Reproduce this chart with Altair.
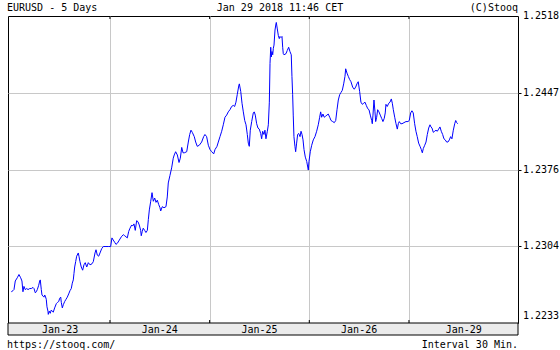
import altair as alt
import pandas as pd

# time in trading days since Jan-23 00:00 (30-min bars), EURUSD price
days = [
    0.010, 0.027, 0.037, 0.050, 0.070, 0.087, 0.104, 0.117, 0.127, 0.137,
    0.150, 0.165, 0.178, 0.195, 0.211, 0.228, 0.238, 0.251, 0.261, 0.271,
    0.285, 0.295, 0.301, 0.311, 0.318, 0.328, 0.338, 0.345, 0.351, 0.361,
    0.368, 0.378, 0.381, 0.391, 0.401, 0.411, 0.421, 0.431, 0.445, 0.462,
    0.472, 0.486, 0.496, 0.506, 0.512, 0.522, 0.532, 0.546, 0.559, 0.572,
    0.586, 0.599, 0.612, 0.622, 0.632, 0.639, 0.646, 0.656, 0.666, 0.682,
    0.689, 0.699, 0.712, 0.726, 0.739, 0.752, 0.767, 0.783, 0.800, 0.820,
    0.833, 0.850, 0.860, 0.873, 0.887, 0.900, 0.917, 0.933, 0.960, 0.983,
    1.007, 1.020, 1.033, 1.047, 1.060, 1.074, 1.094, 1.114, 1.134, 1.148,
    1.161, 1.174, 1.188, 1.201, 1.218, 1.228, 1.241, 1.254, 1.268, 1.281,
    1.294, 1.308, 1.314, 1.324, 1.334, 1.348, 1.361, 1.375, 1.385, 1.395,
    1.409, 1.422, 1.435, 1.449, 1.462, 1.475, 1.489, 1.502, 1.509, 1.525,
    1.542, 1.562, 1.575, 1.585, 1.602, 1.619, 1.635, 1.645, 1.659, 1.676,
    1.693, 1.706, 1.720, 1.733, 1.746, 1.770, 1.786, 1.800, 1.813, 1.826,
    1.846, 1.860, 1.876, 1.896, 1.920, 1.940, 1.953, 1.970, 1.987, 2.004,
    2.021, 2.041, 2.054, 2.074, 2.087, 2.104, 2.121, 2.137, 2.154, 2.171,
    2.187, 2.204, 2.221, 2.237, 2.251, 2.264, 2.277, 2.292, 2.298, 2.312,
    2.325, 2.338, 2.352, 2.365, 2.378, 2.388, 2.398, 2.408, 2.422, 2.438,
    2.448, 2.458, 2.472, 2.485, 2.498, 2.512, 2.522, 2.532, 2.545, 2.555,
    2.565, 2.579, 2.589, 2.599, 2.606, 2.613, 2.619, 2.626, 2.633, 2.639,
    2.646, 2.656, 2.666, 2.669, 2.679, 2.689, 2.699, 2.706, 2.716, 2.726,
    2.733, 2.739, 2.746, 2.766, 2.779, 2.793, 2.806, 2.819, 2.826, 2.833,
    2.839, 2.846, 2.856, 2.863, 2.873, 2.883, 2.893, 2.907, 2.917, 2.927,
    2.937, 2.947, 2.960, 2.974, 2.990, 2.997, 3.010, 3.024, 3.040, 3.057,
    3.074, 3.090, 3.104, 3.114, 3.124, 3.137, 3.150, 3.164, 3.177, 3.190,
    3.205, 3.218, 3.235, 3.251, 3.265, 3.278, 3.291, 3.305, 3.318, 3.331,
    3.345, 3.358, 3.365, 3.378, 3.391, 3.405, 3.418, 3.435, 3.451, 3.465,
    3.478, 3.491, 3.505, 3.518, 3.532, 3.546, 3.559, 3.572, 3.586, 3.599,
    3.612, 3.626, 3.632, 3.639, 3.649, 3.659, 3.666, 3.676, 3.686, 3.699,
    3.712, 3.726, 3.739, 3.752, 3.762, 3.769, 3.782, 3.797, 3.810, 3.823,
    3.833, 3.843, 3.857, 3.870, 3.883, 3.893, 3.903, 3.917, 3.930, 3.950,
    3.970, 3.990, 4.003, 4.017, 4.030, 4.043, 4.057, 4.070, 4.083, 4.097,
    4.111, 4.124, 4.134, 4.144, 4.158, 4.171, 4.184, 4.198, 4.211, 4.221,
    4.231, 4.244, 4.258, 4.271, 4.284, 4.298, 4.311, 4.324, 4.338, 4.351,
    4.364, 4.378, 4.391, 4.405, 4.418, 4.431, 4.445, 4.459, 4.469, 4.479,
    4.489,
]

prices = [
    1.2262, 1.2263, 1.2264, 1.2272, 1.2275, 1.2278, 1.2275, 1.2272, 1.2262, 1.2267,
    1.2264, 1.2265, 1.2264, 1.2265, 1.2265, 1.2266, 1.2265, 1.2261, 1.2262, 1.2264,
    1.2268, 1.2272, 1.2273, 1.2264, 1.2259, 1.2258, 1.2257, 1.2259, 1.2258, 1.2255,
    1.2248, 1.2244, 1.2241, 1.2244, 1.2242, 1.2245, 1.2244, 1.2243, 1.2247, 1.2251,
    1.2252, 1.2253, 1.2256, 1.2257, 1.2252, 1.2247, 1.2250, 1.2253, 1.2255, 1.2257,
    1.2260, 1.2263, 1.2265, 1.2270, 1.2273, 1.2279, 1.2285, 1.2290, 1.2295, 1.2298,
    1.2295, 1.2290, 1.2285, 1.2282, 1.2287, 1.2289, 1.2285, 1.2289, 1.2287, 1.2288,
    1.2290, 1.2298, 1.2301, 1.2296, 1.2295, 1.2298, 1.2302, 1.2304, 1.2304, 1.2304,
    1.2304, 1.2312, 1.2310, 1.2308, 1.2306, 1.2307, 1.2310, 1.2313, 1.2315, 1.2314,
    1.2313, 1.2312, 1.2318, 1.2321, 1.2324, 1.2323, 1.2325, 1.2319, 1.2328, 1.2327,
    1.2324, 1.2319, 1.2314, 1.2318, 1.2321, 1.2319, 1.2317, 1.2319, 1.2329, 1.2338,
    1.2346, 1.2354, 1.2346, 1.2349, 1.2345, 1.2347, 1.2343, 1.2340, 1.2337, 1.2341,
    1.2340, 1.2341, 1.2350, 1.2363, 1.2370, 1.2377, 1.2386, 1.2389, 1.2392, 1.2389,
    1.2382, 1.2386, 1.2396, 1.2391, 1.2391, 1.2392, 1.2401, 1.2408, 1.2412, 1.2410,
    1.2406, 1.2401, 1.2397, 1.2398, 1.2401, 1.2406, 1.2408, 1.2406, 1.2398, 1.2394,
    1.2392, 1.2390, 1.2394, 1.2397, 1.2401, 1.2406, 1.2411, 1.2417, 1.2424, 1.2426,
    1.2429, 1.2431, 1.2434, 1.2435, 1.2434, 1.2438, 1.2445, 1.2453, 1.2455, 1.2448,
    1.2437, 1.2429, 1.2421, 1.2417, 1.2408, 1.2400, 1.2397, 1.2412, 1.2420, 1.2428,
    1.2429, 1.2426, 1.2418, 1.2414, 1.2413, 1.2409, 1.2404, 1.2411, 1.2408, 1.2412,
    1.2404, 1.2411, 1.2417, 1.2438, 1.2474, 1.2489, 1.2480, 1.2485, 1.2482, 1.2488,
    1.2491, 1.2505, 1.2511, 1.2512, 1.2506, 1.2500, 1.2497, 1.2499, 1.2498, 1.2499,
    1.2489, 1.2483, 1.2482, 1.2483, 1.2486, 1.2489, 1.2485, 1.2482, 1.2462, 1.2445,
    1.2426, 1.2406, 1.2397, 1.2392, 1.2400, 1.2408, 1.2409, 1.2406, 1.2411, 1.2408,
    1.2403, 1.2394, 1.2387, 1.2383, 1.2375, 1.2383, 1.2392, 1.2398, 1.2403, 1.2406,
    1.2411, 1.2417, 1.2424, 1.2429, 1.2424, 1.2427, 1.2424, 1.2425, 1.2426, 1.2427,
    1.2424, 1.2421, 1.2420, 1.2419, 1.2421, 1.2431, 1.2440, 1.2445, 1.2447, 1.2449,
    1.2455, 1.2462, 1.2469, 1.2465, 1.2462, 1.2459, 1.2457, 1.2452, 1.2450, 1.2452,
    1.2455, 1.2457, 1.2448, 1.2438, 1.2436, 1.2437, 1.2438, 1.2435, 1.2432, 1.2431,
    1.2426, 1.2421, 1.2418, 1.2426, 1.2440, 1.2429, 1.2420, 1.2424, 1.2431, 1.2429,
    1.2426, 1.2423, 1.2420, 1.2423, 1.2428, 1.2436, 1.2434, 1.2437, 1.2438, 1.2441,
    1.2437, 1.2431, 1.2424, 1.2418, 1.2413, 1.2418, 1.2420, 1.2418, 1.2418, 1.2419,
    1.2420, 1.2420, 1.2421, 1.2428, 1.2430, 1.2428, 1.2418, 1.2411, 1.2406, 1.2400,
    1.2397, 1.2394, 1.2391, 1.2395, 1.2398, 1.2401, 1.2408, 1.2414, 1.2417, 1.2415,
    1.2414, 1.2410, 1.2411, 1.2412, 1.2411, 1.2413, 1.2415, 1.2411, 1.2408, 1.2404,
    1.2403, 1.2401, 1.2401, 1.2403, 1.2406, 1.2404, 1.2412, 1.2418, 1.2421, 1.2419,
    1.2418,
]

day_boundaries = [1, 2, 3, 4]
day_labels = ["Jan-23", "Jan-24", "Jan-25", "Jan-26", "Jan-29"]
day_label_pos = [0.5, 1.5, 2.5, 3.5, 4.55]

y_ticks = [1.2233, 1.230425, 1.23755, 1.244675, 1.2518]
y_tick_labels = ["1.2233", "1.2304", "1.2376", "1.2447", "1.2518"]

title_left = "EURUSD - 5 Days"
title_mid = "Jan 29 2018 11:46 CET"
title_right = "(C)Stooq"
foot_left = "https://stooq.com/"
foot_right = "Interval 30 Min."

W, H = 510, 307
FONT = "DejaVu Sans Mono"
FS = 10
GRID = "#c8c8c8"

n = min(len(days), len(prices))
df = pd.DataFrame({"day": days[:n], "price": prices[:n]})

xs = alt.Scale(domain=[-0.023, 5.094], nice=False, zero=False)
ys = alt.Scale(domain=[1.2233, 1.2518], nice=False, zero=False)

xa = alt.Axis(values=day_boundaries, grid=True, gridColor=GRID, gridWidth=1,
              labels=False, ticks=False, domain=False, title=None)
ya = alt.Axis(orient="right", values=y_ticks[1:4], grid=True, gridColor=GRID,
              gridWidth=1, labels=False, ticks=True, tickSize=3,
              tickColor="black", domain=False, title=None)

line = alt.Chart(df).mark_line(color="#0000ff", strokeWidth=1).encode(
    x=alt.X("day:Q", scale=xs, axis=xa),
    y=alt.Y("price:Q", scale=ys, axis=ya),
)

bdf = pd.DataFrame({"day": day_boundaries})
ticks_top = alt.Chart(bdf).mark_rule(color="black", strokeWidth=1).encode(
    x=alt.X("day:Q", scale=xs, axis=xa), y=alt.value(0), y2=alt.value(3)
)
ticks_bot = alt.Chart(bdf).mark_rule(color="black", strokeWidth=1).encode(
    x=alt.X("day:Q", scale=xs, axis=xa), y=alt.value(H - 3), y2=alt.value(H)
)

one = pd.DataFrame({"a": [0]})
strip = alt.Chart(one).mark_rect(fill="#ebebeb", stroke="black", strokeWidth=1).encode(
    x=alt.value(0), x2=alt.value(W), y=alt.value(H), y2=alt.value(H + 12)
)

ldf = pd.DataFrame({"day": day_label_pos, "label": day_labels})
day_text = alt.Chart(ldf).mark_text(font=FONT, fontSize=FS, baseline="middle",
                                    align="center", color="black").encode(
    x=alt.X("day:Q", scale=xs, axis=xa), y=alt.value(H + 6.5), text="label:N"
)

ydf = pd.DataFrame({"price": y_ticks[1:], "label": y_tick_labels[1:]})
y_text = alt.Chart(ydf).mark_text(font=FONT, fontSize=FS, baseline="middle",
                                  align="left", color="black").encode(
    x=alt.value(W + 5), y=alt.Y("price:Q", scale=ys, axis=ya), text="label:N"
)
ydf0 = pd.DataFrame({"price": y_ticks[:1], "label": y_tick_labels[:1]})
y_text0 = alt.Chart(ydf0).mark_text(font=FONT, fontSize=FS, baseline="middle",
                                    align="left", color="black", dy=-7).encode(
    x=alt.value(W + 5), y=alt.Y("price:Q", scale=ys, axis=ya), text="label:N"
)


def label(txt, x, y, align):
    return alt.Chart(one).mark_text(font=FONT, fontSize=FS, baseline="middle",
                                    align=align, color="black", text=txt).encode(
        x=alt.value(x), y=alt.value(y)
    )


texts = [
    label(title_left, -1, -8, "left"),
    label(title_mid, 272, -8, "center"),
    label(title_right, W, -8, "right"),
    label(foot_left, -1, 329, "left"),
    label(foot_right, W, 329, "right"),
]

chart = alt.layer(
    strip, line, ticks_top, ticks_bot, day_text, y_text, y_text0, *texts
).properties(
    width=W, height=H,
    padding={"left": 8, "top": 16, "right": 42, "bottom": 27},
    autosize=alt.AutoSizeParams(type="none"),
    background="white",
).configure_view(stroke="black", strokeWidth=1)

chart.save("out.html", embed_options={"renderer": "svg", "actions": False})
